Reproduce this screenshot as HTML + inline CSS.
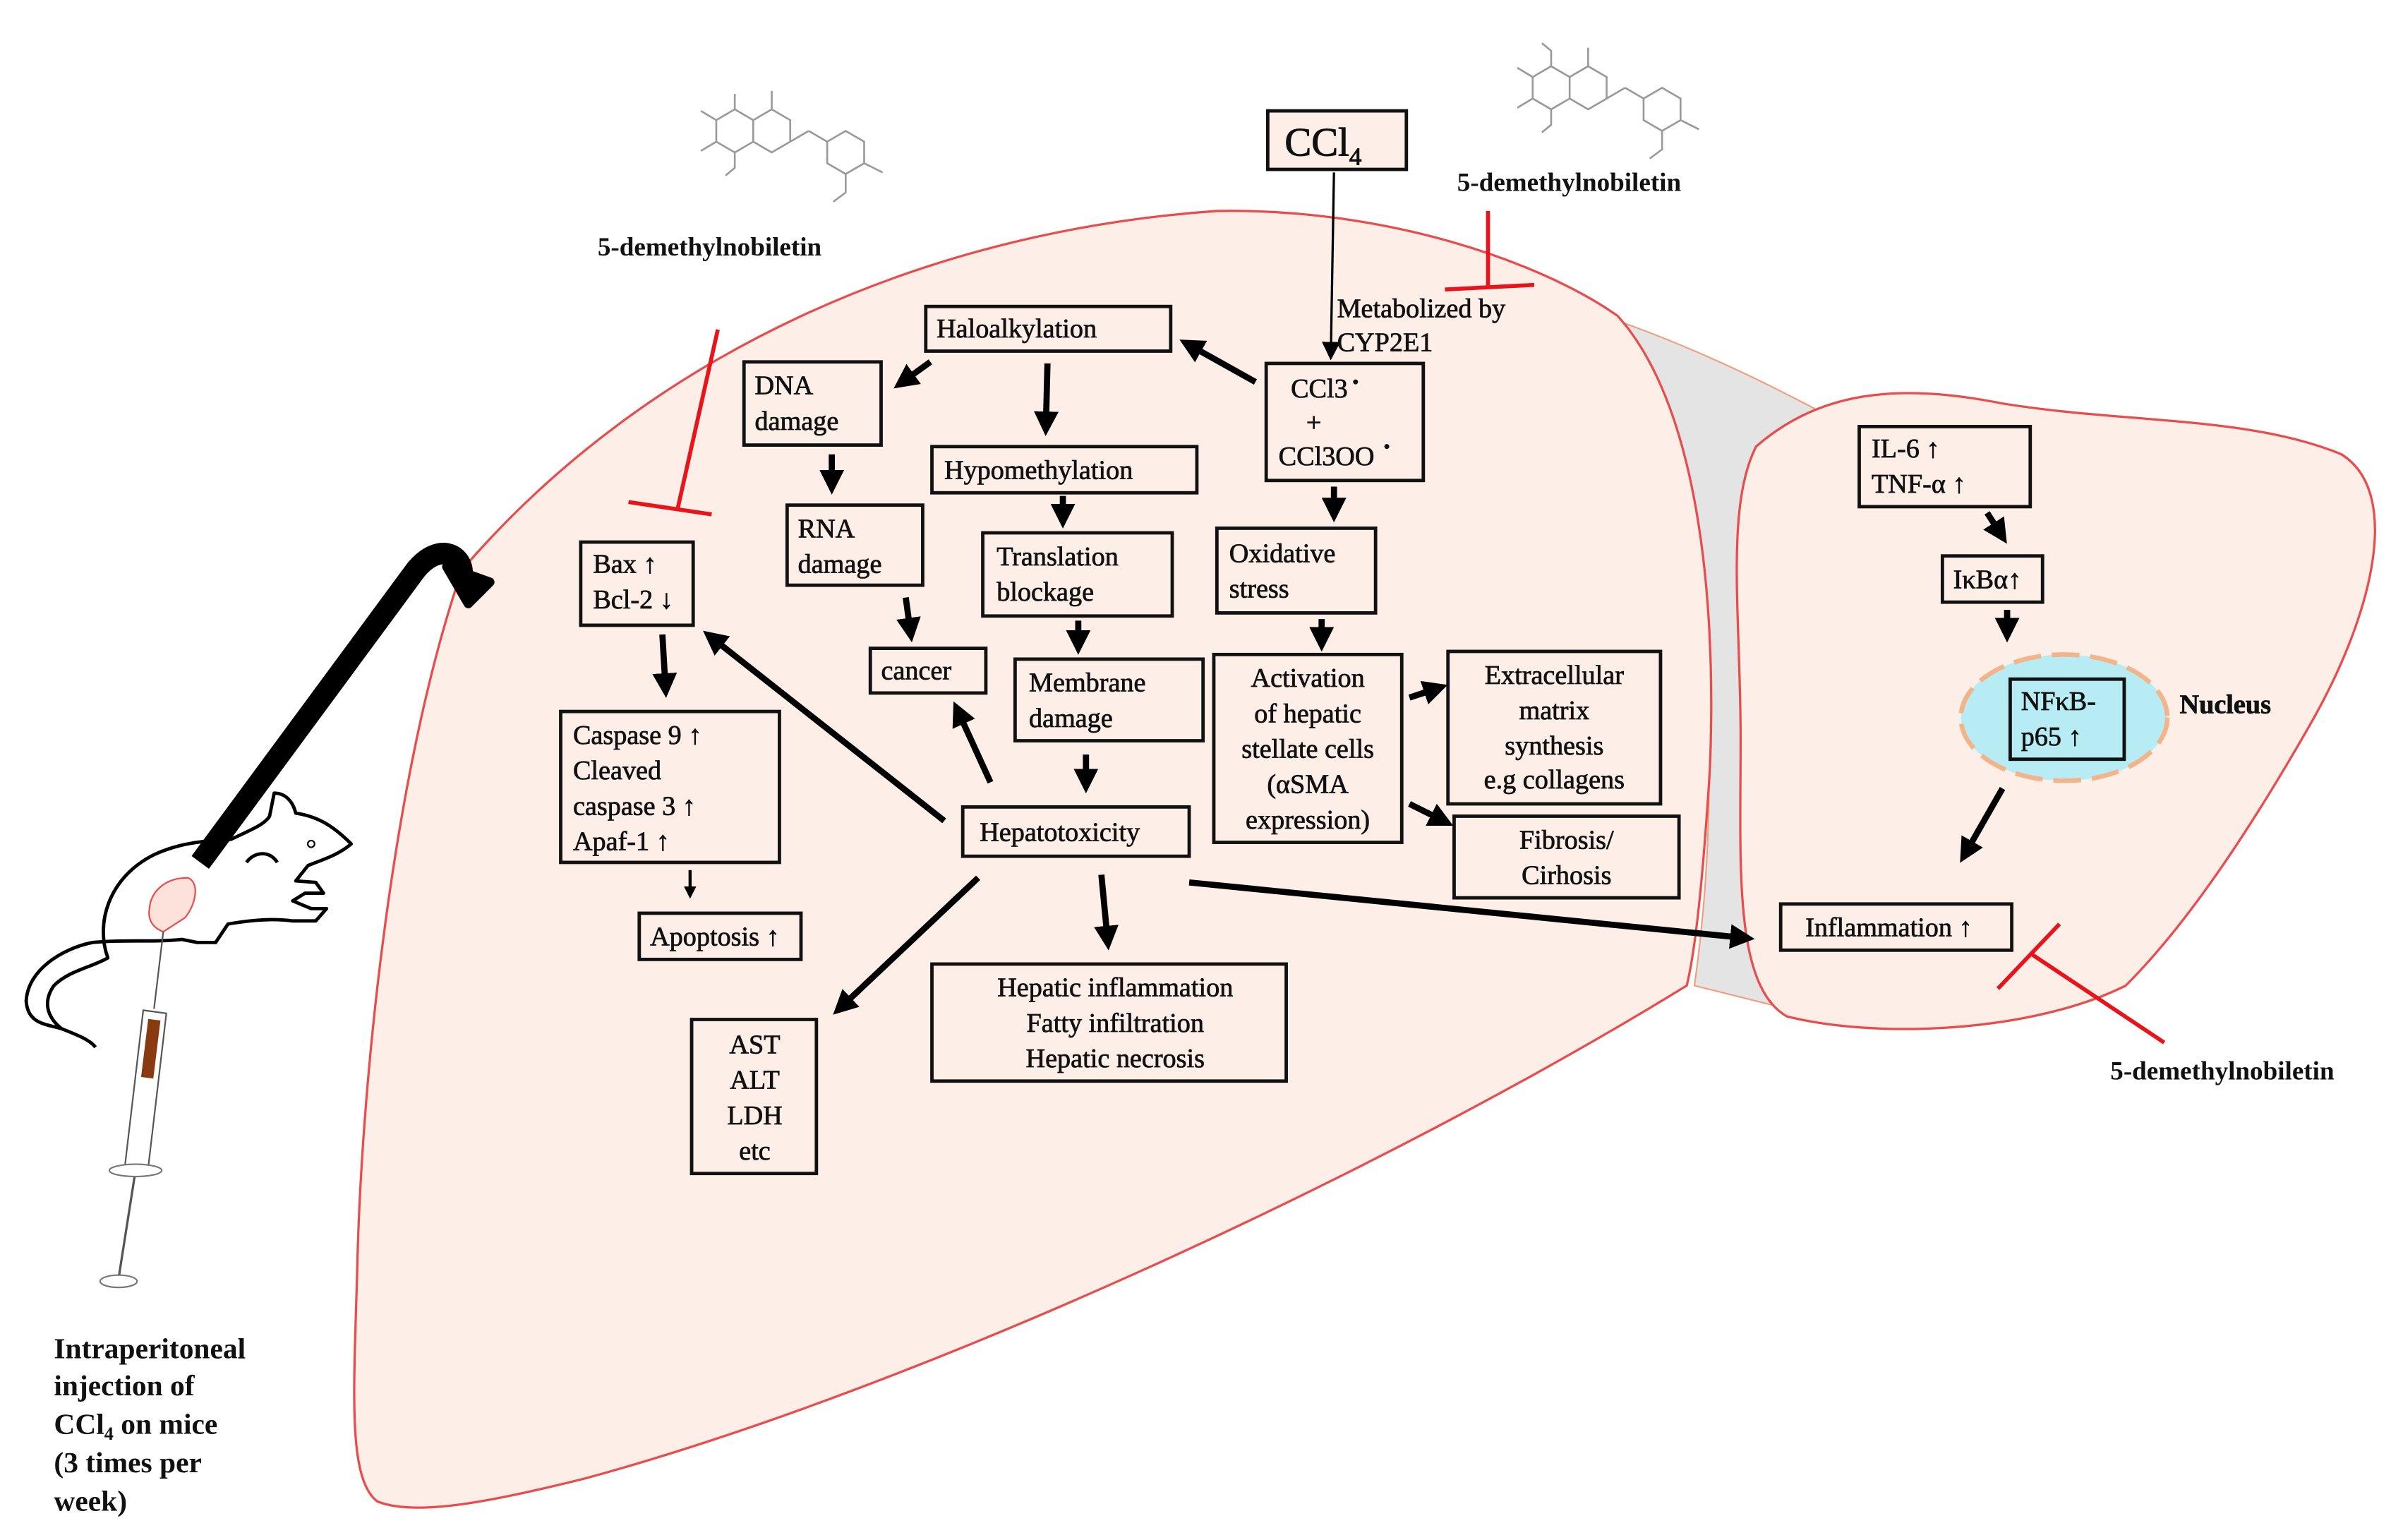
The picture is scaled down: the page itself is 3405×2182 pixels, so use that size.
<!DOCTYPE html>
<html><head><meta charset="utf-8"><style>
html,body{margin:0;padding:0;background:#fff}
svg{display:block}
text{font-family:"Liberation Serif",serif;fill:#111}
.b{fill:#fdefe8;stroke:#111;stroke-width:2.2}
.t{font-size:17.5px;stroke:#111;stroke-width:0.35}
.a{stroke:#000;stroke-width:4;fill:none;marker-end:url(#ah)}
.r{stroke:#e8141c;stroke-width:2.6;fill:none}
.m{stroke:#999;stroke-width:1.2;fill:none}
</style></head><body>
<svg width="3405" height="2182" viewBox="0 0 1560 1000" preserveAspectRatio="none" xmlns="http://www.w3.org/2000/svg">
<defs>
<marker id="ah" markerWidth="4" markerHeight="4" refX="2.2" refY="2" orient="auto" markerUnits="strokeWidth"><path d="M0,0 L4,2 L0,4 z" fill="#000"/></marker>
<marker id="ah2" markerWidth="8" markerHeight="8" refX="4" refY="4" orient="auto" markerUnits="strokeWidth"><path d="M0,0 L8,4 L0,8 z" fill="#000"/></marker>
</defs>
<path d="M1055,210 C1110,230 1160,255 1205,280 L1150,330 C1130,450 1130,560 1160,655 L1100,640 C1120,500 1110,330 1055,210 z" fill="#e4e4e4" stroke="#f0a080" stroke-width="1"/>
<path d="M300,370 C420,230 600,150 790,137 C900,135 1000,170 1050,205 C1100,260 1115,380 1110,500 C1105,580 1100,620 1095,640 C900,760 600,900 380,960 C320,975 270,985 245,975 C225,960 230,900 232,820 C235,700 255,500 300,370 z" fill="#fdefe8" stroke="#e84c4c" stroke-width="1.5"/>
<path d="M1140,290 C1180,255 1230,248 1300,262 C1380,275 1460,270 1520,295 C1560,320 1540,400 1500,470 C1460,540 1420,600 1380,640 C1320,670 1220,675 1160,660 C1125,640 1130,560 1130,480 C1130,400 1120,330 1140,290 z" fill="#fdefe8" stroke="#e84c4c" stroke-width="1.5"/>

<g class="m">
<path d="M465,78 l12,-7 l12,7 l0,14 l-12,7 l-12,-7 z M489,78 l12,-7 l12,7 l0,14 l-12,7 l-12,-7 z M513,92 l12,-7 M525,85 l12,7 M537,92 l0,14 l12,7 l12,-7 l0,-14 l-12,-7 l-12,7 M561,106 l12,6 M549,113 l0,12 l-8,6 M477,99 l0,10 l-6,5 M465,92 l-10,6 M465,78 l-10,-6 M477,71 l0,-10 M501,71 l0,-12"/>
<path d="M995,50 l12,-7 l12,7 l0,14 l-12,7 l-12,-7 z M1019,50 l12,-7 l12,7 l0,14 l-12,7 l-12,-7 z M1043,64 l12,-7 M1055,57 l12,7 M1067,64 l0,14 l12,7 l12,-7 l0,-14 l-12,-7 l-12,7 M1091,78 l12,6 M1079,85 l0,12 l-8,6 M1007,71 l0,10 l-6,5 M995,64 l-10,6 M995,50 l-10,-6 M1007,43 l0,-10 l-6,-5 M1031,43 l0,-12"/>
</g>
<text x="388" y="166" font-size="17" font-weight="bold">5-demethylnobiletin</text>
<text x="946" y="124" font-size="17" font-weight="bold">5-demethylnobiletin</text>
<text x="1370" y="701" font-size="17" font-weight="bold">5-demethylnobiletin</text>

<path class="r" d="M466,214 L440,330 M408,326 L462,334"/>
<path class="r" d="M966,137 L966,186 M938,188 L996,185"/>
<path class="r" d="M1405,677 L1318,619 M1297,642 L1337,600"/>

<rect class="b" x="823" y="72" width="90" height="38"/>
<text x="834" y="101" font-size="26" stroke="#111" stroke-width="0.5">CCl<tspan font-size="16" dy="6">4</tspan></text>
<line x1="866" y1="112" x2="864" y2="228" stroke="#000" stroke-width="1.5" marker-end="url(#ah2)"/>
<text x="868" y="206" class="t">Metabolized  by</text>
<text x="868" y="228" class="t">CYP2E1</text>

<rect class="b" x="822" y="236" width="102" height="76"/>
<text x="838" y="258" class="t">CCl3<tspan dx="3" dy="-6" font-size="12">•</tspan></text>
<text x="848" y="280" class="t">+</text>
<text x="830" y="302" class="t">CCl3OO<tspan dx="6" dy="-8" font-size="12">•</tspan></text>

<rect class="b" x="601" y="199" width="159" height="29"/><text x="608" y="219" class="t">Haloalkylation</text>
<rect class="b" x="483" y="235" width="89" height="54"/><text x="490" y="256" class="t">DNA</text><text x="490" y="279" class="t">damage</text>
<rect class="b" x="605" y="290" width="172" height="30"/><text x="613" y="311" class="t">Hypomethylation</text>
<rect class="b" x="511" y="328" width="88" height="52"/><text x="518" y="349" class="t">RNA</text><text x="518" y="372" class="t">damage</text>
<rect class="b" x="638" y="346" width="123" height="54"/><text x="647" y="367" class="t">Translation</text><text x="647" y="390" class="t">blockage</text>
<rect class="b" x="790" y="343" width="103" height="55"/><text x="798" y="365" class="t">Oxidative</text><text x="798" y="388" class="t">stress</text>
<rect class="b" x="565" y="421" width="75" height="29"/><text x="572" y="441" class="t">cancer</text>
<rect class="b" x="659" y="428" width="122" height="53"/><text x="668" y="449" class="t">Membrane</text><text x="668" y="472" class="t">damage</text>
<rect class="b" x="788" y="425" width="122" height="122"/>
<g class="t" text-anchor="middle"><text x="849" y="446">Activation</text><text x="849" y="469">of hepatic</text><text x="849" y="492">stellate cells</text><text x="849" y="515">(αSMA</text><text x="849" y="538">expression)</text></g>
<rect class="b" x="940" y="423" width="138" height="99"/>
<g class="t" text-anchor="middle"><text x="1009" y="444">Extracellular</text><text x="1009" y="467">matrix</text><text x="1009" y="490">synthesis</text><text x="1009" y="512">e.g collagens</text></g>
<rect class="b" x="944" y="530" width="146" height="53"/>
<g class="t" text-anchor="middle"><text x="1017" y="551">Fibrosis/</text><text x="1017" y="574">Cirhosis</text></g>
<rect class="b" x="625" y="524" width="147" height="32"/><text x="636" y="546" class="t">Hepatotoxicity</text>
<rect class="b" x="377" y="352" width="73" height="54"/><text x="385" y="372" class="t">Bax ↑</text><text x="385" y="395" class="t">Bcl-2 ↓</text>
<rect class="b" x="364" y="462" width="142" height="98"/>
<g class="t"><text x="372" y="483">Caspase 9 ↑</text><text x="372" y="506">Cleaved</text><text x="372" y="529">caspase 3 ↑</text><text x="372" y="552">Apaf-1 ↑</text></g>
<rect class="b" x="415" y="593" width="105" height="30"/><text x="422" y="614" class="t">Apoptosis ↑</text>
<rect class="b" x="605" y="626" width="230" height="76"/>
<g class="t" text-anchor="middle"><text x="724" y="647">Hepatic inflammation</text><text x="724" y="670">Fatty infiltration</text><text x="724" y="693">Hepatic necrosis</text></g>
<rect class="b" x="449" y="662" width="81" height="100"/>
<g class="t" text-anchor="middle"><text x="490" y="684">AST</text><text x="490" y="707">ALT</text><text x="490" y="730">LDH</text><text x="490" y="753">etc</text></g>

<rect class="b" x="1207" y="277" width="111" height="52"/><text x="1215" y="297" class="t">IL-6 ↑</text><text x="1215" y="320" class="t">TNF-α ↑</text>
<rect class="b" x="1261" y="361" width="65" height="30"/><text x="1268" y="382" class="t">IκBα↑</text>
<ellipse cx="1340" cy="466" rx="67" ry="41" fill="#b8ecf4" stroke="#f2b48a" stroke-width="3" stroke-dasharray="18,7"/>
<rect x="1305" y="441" width="74" height="52" fill="#b8ecf4" stroke="#111" stroke-width="2.2"/>
<text x="1312" y="461" class="t">NFκB-</text><text x="1312" y="484" class="t">p65 ↑</text>
<text x="1415" y="463" class="t" font-weight="bold">Nucleus</text>
<rect class="b" x="1156" y="587" width="150" height="30"/><text x="1172" y="608" class="t">Inflammation ↑</text>

<path class="a" d="M815,248 L772,224"/>
<path class="a" d="M604,235 L586,248"/>
<path class="a" d="M680,236 L679,276"/>
<path class="a" d="M540,295 L540,314"/>
<path class="a" d="M690,322 L690,336"/>
<path class="a" d="M588,388 L591,410"/>
<path class="a" d="M700,403 L700,418"/>
<path class="a" d="M866,316 L866,332"/>
<path class="a" d="M858,402 L858,416"/>
<path class="a" d="M705,490 L705,508"/>
<path class="a" d="M915,453 L933,447"/>
<path class="a" d="M915,522 L937,533"/>
<path class="a" d="M643,508 L622,462"/>
<path class="a" d="M613,533 L462,414"/>
<path class="a" d="M430,412 L432,446"/>
<path class="a" d="M448,565 L448,580" style="stroke-width:2"/>
<path class="a" d="M635,570 L546,654"/>
<path class="a" d="M715,568 L719,610"/>
<path class="a" d="M772,573 L1132,609"/>
<path class="a" d="M1290,333 L1299,347"/>
<path class="a" d="M1303,396 L1303,410"/>
<path class="a" d="M1300,512 L1276,554"/>

<!-- mouse -->
<g fill="none" stroke="#000" stroke-width="2.2" stroke-linejoin="round">
<path d="M150,545 C165,538 172,535 175,530 L178,515 C185,515 190,520 192,528 C205,530 215,535 228,548 C220,555 210,558 200,562 L192,572 L205,573 L210,580 L198,580 L190,585 L202,590 L212,590 L205,598 L190,598 C175,596 160,598 148,600 L140,612 L128,612 L118,610 C100,612 80,610 60,612 C40,616 18,630 17,650 C18,665 30,665 40,668 C30,660 28,650 35,640 C45,630 60,628 70,622 C62,600 70,570 100,555 C115,548 130,546 150,545 Z"/>
<path d="M40,668 C50,672 58,675 62,680"/>
<path d="M160,560 C165,553 175,552 180,560"/>
</g>
<circle cx="202" cy="548" r="2.2" fill="none" stroke="#000"/>
<path d="M97,590 C98,578 108,570 122,570 C130,573 127,588 120,596 L106,605 C98,602 96,596 97,590 z" fill="#fde2dc" stroke="#e84c4c" stroke-width="1"/>
<line x1="106" y1="605" x2="100" y2="655" stroke="#555" stroke-width="1"/>
<path d="M93,656 L108,658 L96,760 L81,758 z" fill="#fff" stroke="#555"/>
<rect x="94" y="662" width="8" height="38" fill="#8a3a10" transform="rotate(7 98 680)"/>
<path d="M88,760 L77,830" stroke="#555" stroke-width="1.5"/>
<ellipse cx="88" cy="760" rx="17" ry="4" fill="#fff" stroke="#777"/>
<ellipse cx="77" cy="832" rx="12" ry="4" fill="#fff" stroke="#777"/>
<path d="M130,560 L270,370 C285,352 300,360 300,372" fill="none" stroke="#000" stroke-width="14"/>
<path d="M290,368 L318,378 L304,392 z" fill="#000" stroke="#000" stroke-width="6" stroke-linejoin="round"/>

<g font-size="19" font-weight="bold">
<text x="35" y="882">Intraperitoneal</text>
<text x="35" y="906">injection of</text>
<text x="35" y="931">CCl<tspan font-size="12" dy="4">4</tspan><tspan dy="-4"> on mice</tspan></text>
<text x="35" y="956">(3 times per</text>
<text x="35" y="981">week)</text>
</g>
</svg>
</body></html>
